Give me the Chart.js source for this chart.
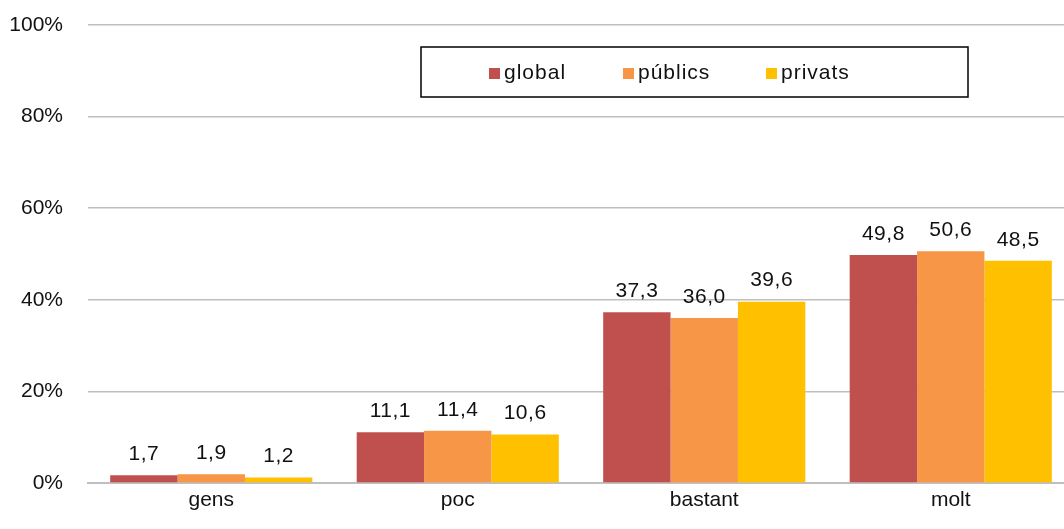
<!DOCTYPE html>
<html>
<head>
<meta charset="utf-8">
<script src="https://cdn.jsdelivr.net/npm/chart.js@4"></script>
<style>
  html, body { margin: 0; padding: 0; background: #fff; overflow: hidden; }
  #wrap { width: 1074px; height: 529px; position: relative; }
</style>
</head>
<body>
<div id="wrap"><canvas id="chart"></canvas></div>
<script>
// --- data ---
const categories = ['gens', 'poc', 'bastant', 'molt'];
const seriesNames = ['global', 'públics', 'privats'];
const globalVals = [1.7, 11.1, 37.3, 49.8];
const publicsVals = [1.9, 11.4, 36.0, 50.6];
const privatsVals = [1.2, 10.6, 39.6, 48.5];
const yTicks = [0, 20, 40, 60, 80, 100];

const COLORS = ['#C0504D', '#F79646', '#FFC000'];
const FONT = '"Liberation Sans", Arial, sans-serif';

// value labels above every bar, decimal comma
const barLabels = {
    id: 'barLabels',
    afterDatasetsDraw(chart) {
        const ctx = chart.ctx;
        ctx.save();
        ctx.font = '21px ' + FONT;
        ctx.letterSpacing = '0.5px';
        ctx.fillStyle = '#111';
        ctx.textAlign = 'center';
        ctx.textBaseline = 'middle';
        chart.data.datasets.forEach((ds, i) => {
            chart.getDatasetMeta(i).data.forEach((bar, j) => {
                ctx.fillText(ds.data[j].toFixed(1).replace('.', ','), bar.x, bar.y - 21);
            });
        });
        ctx.letterSpacing = '0px';
        ctx.restore();
    }
};

// boxed legend inside the plot
const boxLegend = {
    id: 'boxLegend',
    afterDraw(chart) {
        const ctx = chart.ctx;
        ctx.save();
        ctx.fillStyle = '#fff';
        ctx.fillRect(421, 47, 547, 50);
        ctx.strokeStyle = '#000';
        ctx.lineWidth = 1.5;
        ctx.strokeRect(421, 47, 547, 50);
        ctx.font = '21px ' + FONT;
        ctx.letterSpacing = '1px';
        ctx.textBaseline = 'middle';
        ctx.textAlign = 'left';
        const xs = [489, 623, 766];
        chart.data.datasets.forEach((ds, i) => {
            ctx.fillStyle = ds.backgroundColor;
            ctx.fillRect(xs[i], 68, 11, 11);
            ctx.fillStyle = '#111';
            ctx.fillText(ds.label, xs[i] + 15, 73);
        });
        ctx.letterSpacing = '0px';
        ctx.restore();
    }
};

new Chart(document.getElementById('chart'), {
    type: 'bar',
    data: {
        labels: categories,
        datasets: [
            { label: seriesNames[0], data: globalVals, backgroundColor: COLORS[0] },
            { label: seriesNames[1], data: publicsVals, backgroundColor: COLORS[1] },
            { label: seriesNames[2], data: privatsVals, backgroundColor: COLORS[2] }
        ]
    },
    options: {
        responsive: true,
        maintainAspectRatio: false,
        animation: false,
        layout: { padding: { top: 25, right: 0, left: 0, bottom: 0 } },
        datasets: {
            bar: { categoryPercentage: 0.82, barPercentage: 1.0, borderWidth: 0 }
        },
        plugins: {
            legend: { display: false },
            tooltip: { enabled: false }
        },
        scales: {
            x: {
                grid: { display: false, drawTicks: false },
                border: { color: '#BFBFBF', width: 2 },
                ticks: { color: '#111', font: { family: FONT, size: 21 }, padding: 5 },
                afterFit(axis) { axis.height = 46; }
            },
            y: {
                min: 0,
                max: 100,
                afterBuildTicks(axis) { axis.ticks = yTicks.map(v => ({ value: v })); },
                grid: { color: '#BFBFBF', lineWidth: 1.5, drawTicks: false },
                border: { display: false },
                ticks: {
                    color: '#111',
                    font: { family: FONT, size: 21 },
                    padding: 25,
                    callback: v => v + '%'
                },
                afterFit(axis) {
                    axis.width = 88;
                    axis.paddingTop = 0;
                    axis.paddingBottom = 0;
                }
            }
        }
    },
    plugins: [barLabels, boxLegend]
});
</script>
</body>
</html>
